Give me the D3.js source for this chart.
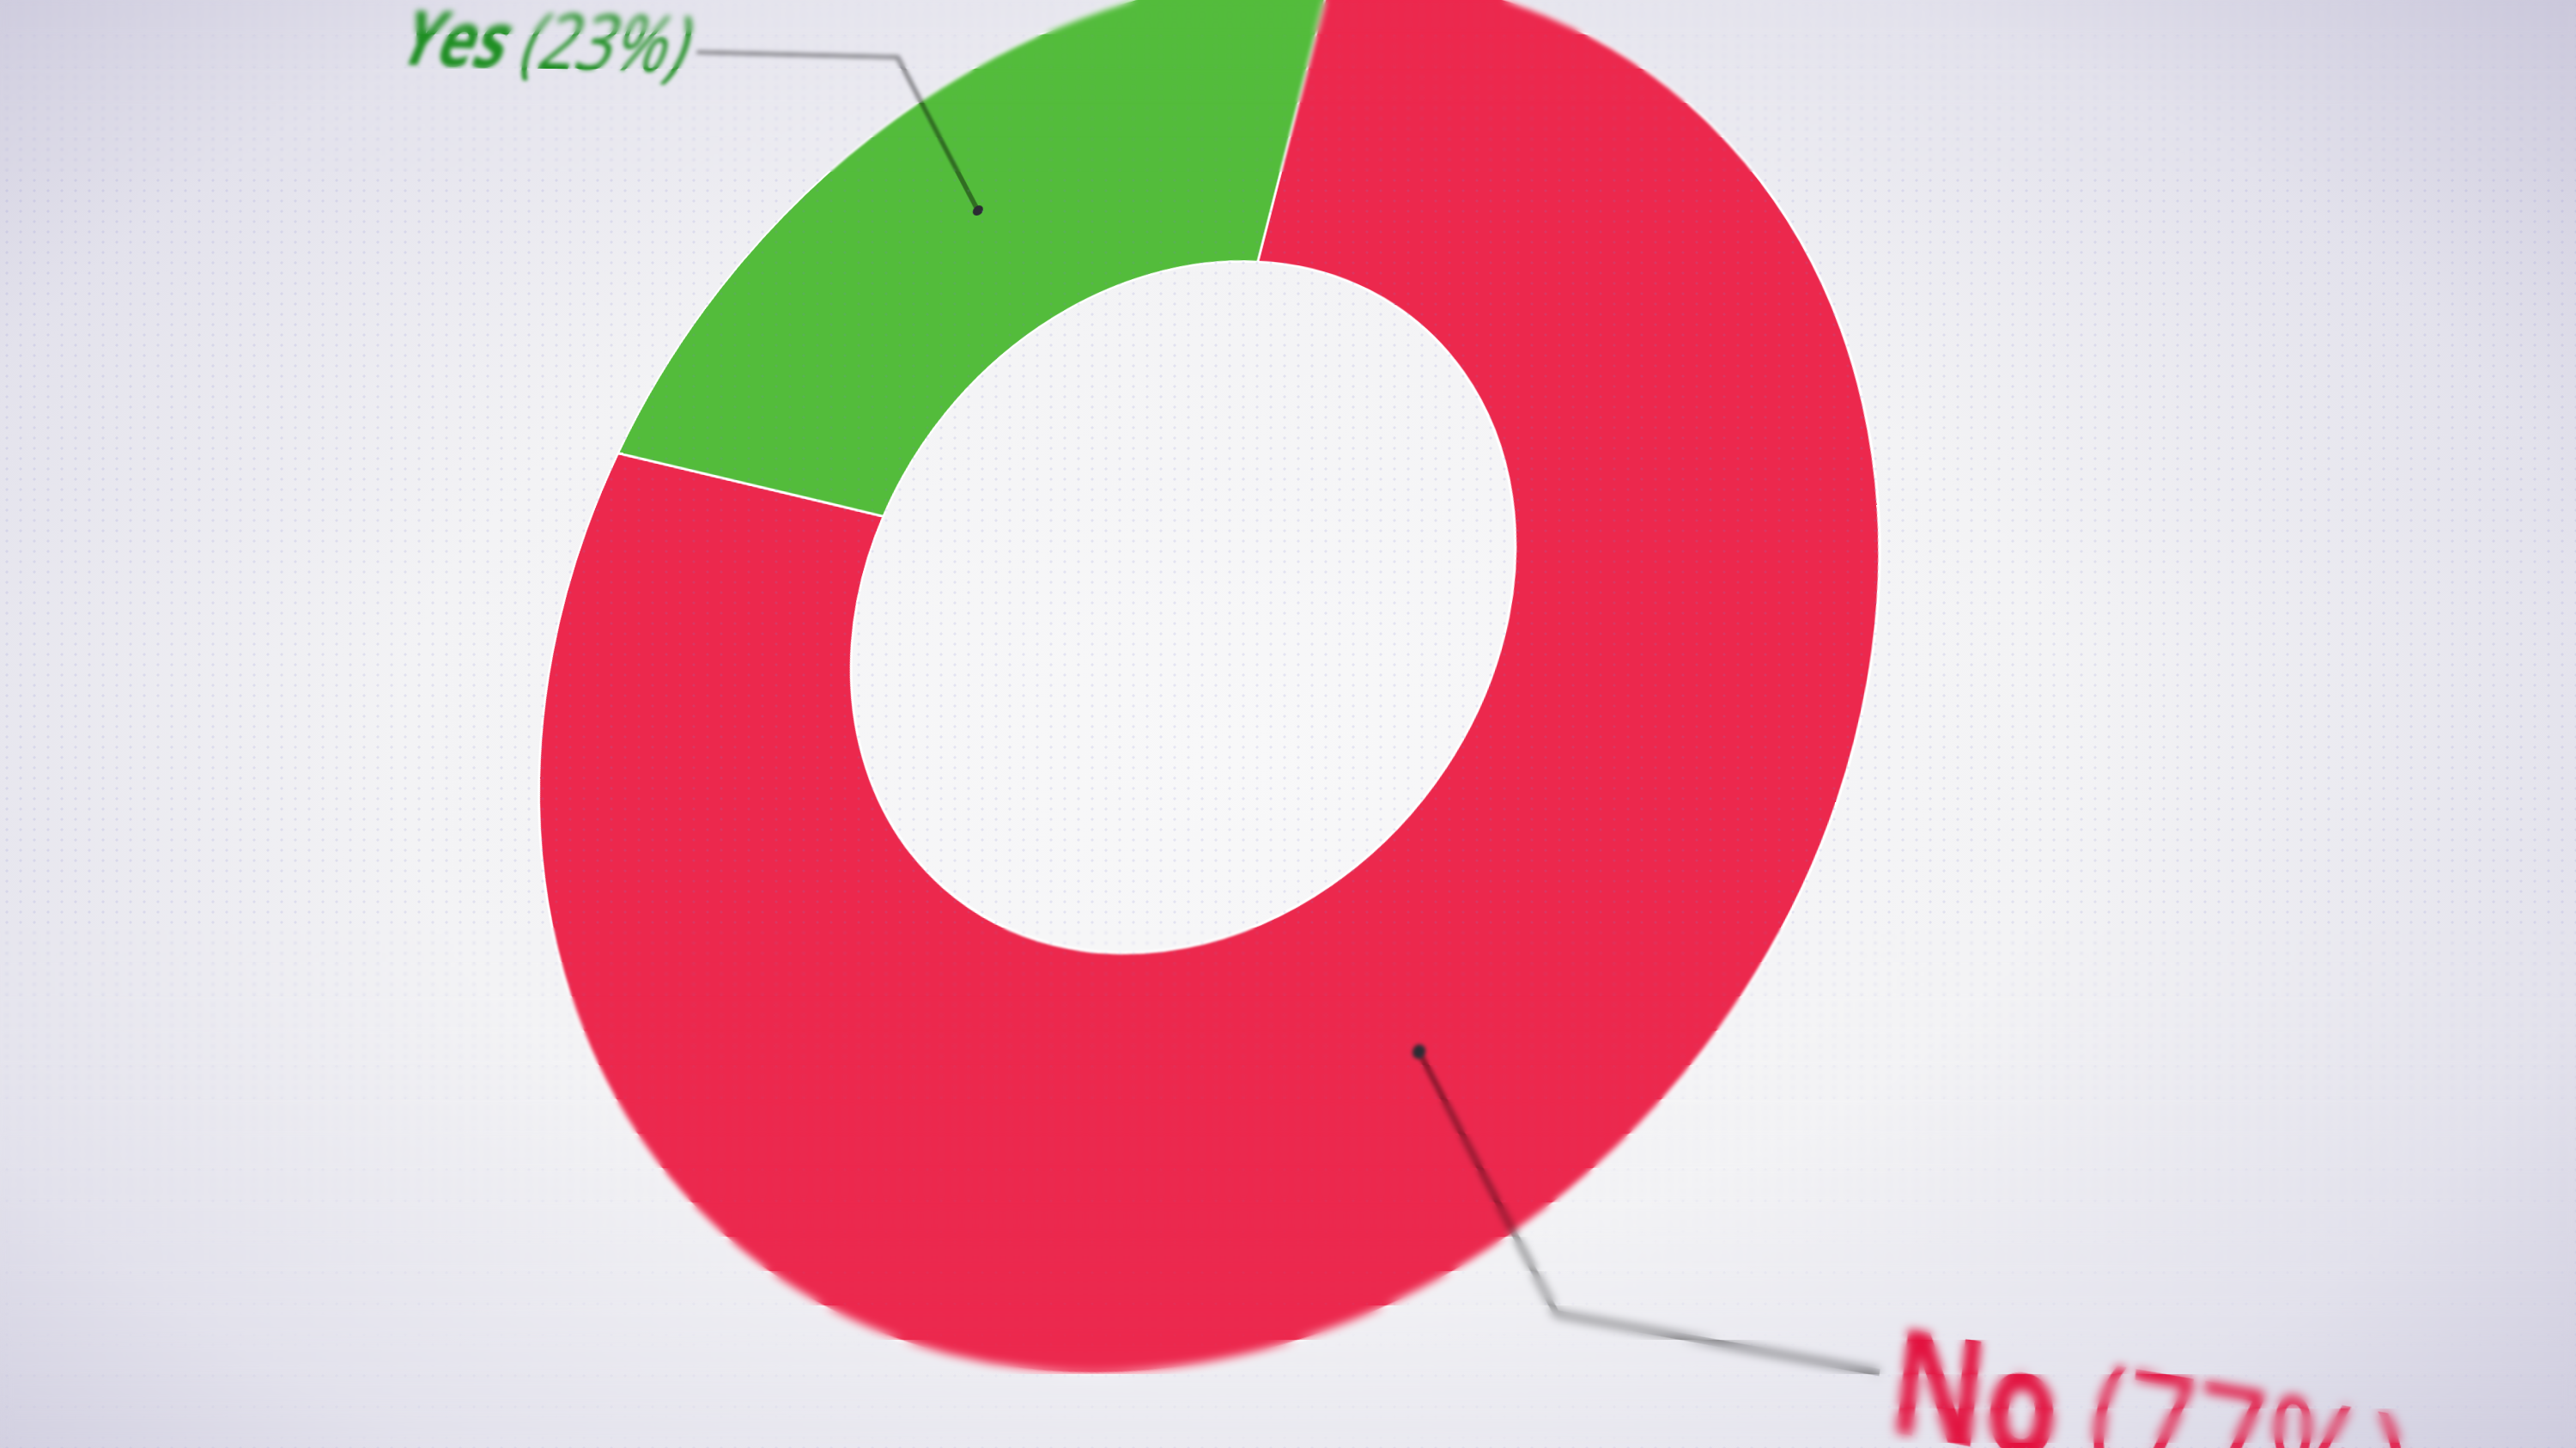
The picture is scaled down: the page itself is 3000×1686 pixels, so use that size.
<!DOCTYPE html>
<html><head><meta charset="utf-8">
<script src="https://cdn.jsdelivr.net/npm/d3@7"></script>
<style>
html,body{margin:0;padding:0;width:3000px;height:1686px;overflow:hidden;}
body{background: radial-gradient(ellipse 72% 78% at 48% 52%, #f8f8f9 0%, #f3f3f5 45%, #e3e2ec 75%, #c9c6da 100%);}
#stage{position:absolute;left:0;top:0;width:3000px;height:1686px;overflow:hidden;}
#plane{position:absolute;left:0;top:0;transform-origin:0 0;}
#dots{position:absolute;left:0;top:0;width:3000px;height:1686px;background-image:radial-gradient(circle, rgba(130,130,210,0.16) 1.2px, transparent 1.9px);background-size:16px 12px;pointer-events:none;}
.band{position:absolute;left:0;width:3000px;pointer-events:none;}
</style></head><body>
<div id="stage"><div id="plane"></div></div>
<div id="dots"></div>
<div id="bands"></div>
<script>
const categories = ["No", "Yes"];
const values = [77, 23];
const labelTexts = [["No", " (77%)"], ["Yes", " (23%)"]];
const sliceColors = ["#ec284d", "#53bc3b"];
const labelColors = ["#e3123f", "#1f8f23"];
const innerRatio = 0.5;

const S = 800, HALF = 2.2;
const pie = d3.pie().sort(null).value(d => d)(values);
const outerR = S, innerR = S * innerRatio;
const arc = d3.arc().innerRadius(innerR).outerRadius(outerR);
const elbowArc = d3.arc().innerRadius(outerR * 1.105).outerRadius(outerR * 1.105);
const labelX = outerR * 1.12;

function pp(a, r){ return [r*Math.sin(a), -r*Math.cos(a)]; }
const mid = (1+innerRatio)/2;
const midA = p => (p.startAngle+p.endAngle)/2;
// camera: where chart features sit in the photographed (tilted) view
const anchors = [
  [pp(pie[0].startAngle, innerRatio), [1465,305]],
  [pp(pie[0].endAngle, 1), [720,528]],
  [pp(pie[0].endAngle, innerRatio), [1029,601]],
  [pp(midA(pie[0]), mid), [1653,1225]],
  [pp(midA(pie[1]), mid), [1139,245]]
];

function solveH(pairs){
  const N = Array.from({length:8},()=>Array(9).fill(0));
  for (const [[u,v],[X0,Y0]] of pairs){
    const X = X0/1000, Y = Y0/1000;
    const rows = [[u,v,1,0,0,0,-u*X,-v*X,X],[0,0,0,u,v,1,-u*Y,-v*Y,Y]];
    for (const row of rows) for (let r=0;r<8;r++){ for (let c=0;c<9;c++) N[r][c]+=row[r]*row[c]; }
  }
  for (let c=0;c<8;c++){
    let p=c; for (let r=c+1;r<8;r++) if (Math.abs(N[r][c])>Math.abs(N[p][c])) p=r;
    [N[c],N[p]]=[N[p],N[c]];
    for (let r=0;r<8;r++){ if(r===c) continue; const f=N[r][c]/N[c][c]; for(let k=c;k<9;k++) N[r][k]-=f*N[c][k]; }
  }
  const h = N.map((row,i)=>row[8]/row[i]);
  return [[h[0]*1000,h[1]*1000,h[2]*1000],[h[3]*1000,h[4]*1000,h[5]*1000],[h[6],h[7],1]];
}
const H = solveH(anchors);

// div-local pixels -> plane units -> photo
const A = [[1/S,0,-HALF],[0,1/S,-HALF],[0,0,1]];
const M = [0,1,2].map(r=>[0,1,2].map(c=>H[r][0]*A[0][c]+H[r][1]*A[1][c]+H[r][2]*A[2][c]));
const plane = d3.select("#plane")
  .style("width", (2*HALF*S)+"px").style("height",(2*HALF*S)+"px")
  .style("transform", `matrix3d(${M[0][0]},${M[1][0]},0,${M[2][0]},${M[0][1]},${M[1][1]},0,${M[2][1]},0,0,1,0,${M[0][2]},${M[1][2]},0,${M[2][2]})`);

const svg = plane.append("svg").attr("width",2*HALF*S).attr("height",2*HALF*S);
const g = svg.append("g").attr("transform",`translate(${HALF*S},${HALF*S})`);

g.selectAll("path.slice").data(pie).join("path").attr("class","slice")
  .attr("d", arc).attr("fill",(d,i)=>sliceColors[i])
  .attr("stroke","#ffffff").attr("stroke-width",3);

const side = d => midA(d) < Math.PI ? 1 : -1;
const lab = g.selectAll("g.lab").data(pie).join("g").attr("class","lab");
lab.append("polyline").attr("fill","none").attr("stroke","#000").attr("stroke-opacity",0.42)
  .attr("stroke-width",6).attr("stroke-linejoin","round")
  .attr("points", d => {
    const c = arc.centroid(d), e = elbowArc.centroid(d);
    return [c, e, [labelX*side(d), e[1]]].map(p=>p.join(",")).join(" ");
  });
lab.append("circle").attr("r",7).attr("fill","#2b2b33")
  .attr("cx",d=>arc.centroid(d)[0]).attr("cy",d=>arc.centroid(d)[1]);
lab.append("text")
  .attr("transform", d => `translate(${labelX*side(d) + 12*side(d)},${elbowArc.centroid(d)[1]}) scale(0.88,1)`)
  .attr("dy", d => side(d) > 0 ? "0.38em" : "0.26em")
  .attr("text-anchor", d => side(d) > 0 ? "start" : "end")
  .attr("font-family","'Open Sans', sans-serif")
  .attr("font-size", S*0.15)
  .attr("fill",(d,i)=>labelColors[i])
  .each(function(d,i){
    const t=d3.select(this);
    t.append("tspan").attr("font-weight",700).text(labelTexts[i][0]);
    t.append("tspan").attr("font-weight",400).text(labelTexts[i][1]);
  });

// depth of field bands
const bands=[];
for(let y=1000;y<1686;y+=40) bands.push([y,40,0.3+(y-1000)/686*7]);
for(let y=0;y<240;y+=40) bands.push([y,40,3.5*(1-y/240)]);
d3.select("#bands").selectAll("div").data(bands).join("div").attr("class","band")
  .style("top",d=>d[0]+"px").style("height",d=>d[1]+"px")
  .style("backdrop-filter",d=>`blur(${d[2].toFixed(2)}px)`)
  .style("-webkit-backdrop-filter",d=>`blur(${d[2].toFixed(2)}px)`);
</script>
</body></html>
